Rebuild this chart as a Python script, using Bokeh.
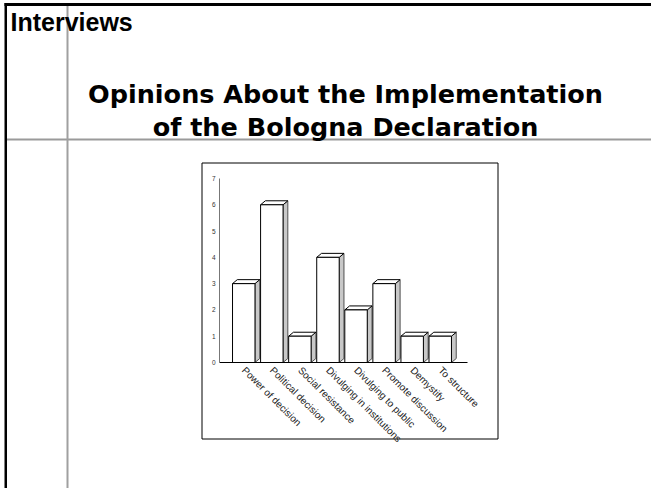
import math
from bokeh.plotting import figure
from bokeh.models import Range1d, FixedTicker, LinearAxis
from bokeh.core.properties import value
from bokeh.embed import file_html
from bokeh.resources import INLINE

# ---- data ----
categories = ["Power of decision", "Political decision", "Social resistance",
              "Divulging in institutions", "Divulging to public", "Promote discussion",
              "Demystify", "To structure"]
counts = [3, 6, 1, 4, 2, 3, 1, 1]
y_ticks = [0, 1, 2, 3, 4, 5, 6, 7]
header = "Interviews"
title_lines = ["Opinions About the Implementation", "of the Bologna Declaration"]

# ---- layout (page pixels) ----
W, H = 651, 488
X0, S = 243.25, 28.07        # pixel of first category centre, pixels per category
Y0, U = 362.0, 184.0 / 7.0   # pixel of value 0, pixels per unit
AX_L, AX_R = 219, 467        # axis extent in pixels

p = figure(width=W, height=H, output_backend="svg", toolbar_location=None,
           x_range=Range1d(0, W), y_range=Range1d(H, 0),
           x_axis_location=None, y_axis_location=None,
           min_border=0)
p.outline_line_color = None
p.xgrid.visible = False
p.ygrid.visible = False
p.background_fill_color = "white"
p.border_fill_color = "white"

p.extra_x_ranges = {"cat": Range1d(-X0 / S, (W - X0) / S)}
p.extra_y_ranges = {"cnt": Range1d((Y0 - H) / U, Y0 / U)}

# ---- slide decorations ----
p.quad(left=[4], right=[W], top=[2.5], bottom=[5.5], fill_color="black", line_color=None)
p.quad(left=[4], right=[6.5], top=[2.5], bottom=[H], fill_color="black", line_color=None)
p.quad(left=[6.5], right=[W], top=[138], bottom=[140], fill_color="#9a9a9a", line_color=None)
p.quad(left=[66], right=[68], top=[5.5], bottom=[H], fill_color="#a0a0a0", line_color=None)

p.text(x=[10], y=[21], text=[header], text_font=value("Liberation Sans"),
       text_font_style="bold", text_font_size="25px", text_align="left",
       text_baseline="middle", text_color="black")
p.text(x=[345, 345], y=[93, 126], text=title_lines, text_font=value("DejaVu Sans"),
       text_font_style="bold", text_font_size="25.5px", text_align="center",
       text_baseline="middle", text_color="black")

p.quad(left=[201.5], right=[497.5], top=[162.5], bottom=[438.5], fill_alpha=0,
       line_color="black", line_width=1)

# ---- 3D bars ----
bw = 0.8
dx = 0.17
dy = 0.152
xs_front, ys_front, xs_top, ys_top, xs_side, ys_side = [], [], [], [], [], []
for i, v in enumerate(counts):
    l, r = i - bw / 2, i + bw / 2
    xs_front.append([l, r, r, l]); ys_front.append([0, 0, v, v])
    xs_top.append([l, l + dx, r + dx, r]); ys_top.append([v, v + dy, v + dy, v])
    xs_side.append([r, r + dx, r + dx, r]); ys_side.append([0, dy, v + dy, v])

kw = dict(x_range_name="cat", y_range_name="cnt")
p.patches(xs_side, ys_side, fill_color="#c8c8c8", line_color="#505050", line_width=1, **kw)
p.patches(xs_top, ys_top, fill_color="white", line_color="black", line_width=1, **kw)
p.patches(xs_front, ys_front, fill_color="white", line_color="black", line_width=1, **kw)

# ---- axes ----
cat_l = (AX_L - X0) / S
cat_r = (AX_R - X0) / S

xa = LinearAxis(x_range_name="cat", y_range_name="cnt", fixed_location=0,
                bounds=(cat_l, cat_r),
                ticker=FixedTicker(ticks=list(range(len(categories)))))
xa.major_label_overrides = {i: c for i, c in enumerate(categories)}
xa.major_label_orientation = -math.pi / 4
xa.major_tick_line_color = None
xa.major_tick_out = 0
xa.major_tick_in = 0
xa.minor_tick_line_color = None
xa.axis_line_color = "black"
xa.major_label_text_font = "Liberation Sans"
xa.major_label_text_font_size = "10px"
xa.major_label_text_color = "#222222"
xa.major_label_standoff = 6
p.add_layout(xa, "below")

ya = LinearAxis(x_range_name="cat", y_range_name="cnt", fixed_location=cat_l,
                bounds=(0, 7), ticker=FixedTicker(ticks=y_ticks))
ya.major_tick_line_color = None
ya.major_tick_out = 0
ya.major_tick_in = 0
ya.minor_tick_line_color = None
ya.axis_line_color = "#777777"
ya.major_label_text_font = "Liberation Sans"
ya.major_label_text_font_size = "6.5px"
ya.major_label_text_color = "#333333"
ya.major_label_standoff = 4
p.add_layout(ya, "left")

open("out.html", "w").write(file_html(p, INLINE))
